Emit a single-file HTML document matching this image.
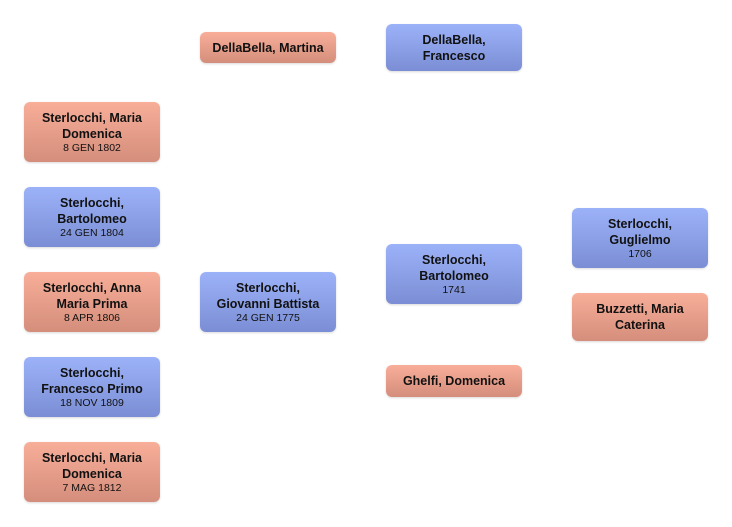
<html><head><style>
body{margin:0;width:732px;height:527px;background:#fff;position:relative;font-family:"Liberation Sans",sans-serif;}
.b{position:absolute;width:136px;border-radius:6px;display:flex;flex-direction:column;justify-content:center;align-items:center;text-align:center;color:#111;font-size:12.5px;font-weight:bold;line-height:16px;box-shadow:0 1px 2px rgba(0,0,0,.15);}
.p{background:linear-gradient(#f8ae99,#d48e7b);}
.u{background:linear-gradient(#9cb2f8,#7b8ed5);}
.b span{font-weight:normal;font-size:10.5px;line-height:13px;}
</style></head><body>
<div class="b p" style="left:24px;top:102px;height:60px">Sterlocchi, Maria<br>Domenica<span>8 GEN 1802</span></div>
<div class="b u" style="left:24px;top:187px;height:60px">Sterlocchi,<br>Bartolomeo<span>24 GEN 1804</span></div>
<div class="b p" style="left:24px;top:272px;height:60px">Sterlocchi, Anna<br>Maria Prima<span>8 APR 1806</span></div>
<div class="b u" style="left:24px;top:357px;height:60px">Sterlocchi,<br>Francesco Primo<span>18 NOV 1809</span></div>
<div class="b p" style="left:24px;top:442px;height:60px">Sterlocchi, Maria<br>Domenica<span>7 MAG 1812</span></div>
<div class="b p" style="left:200px;top:32px;height:31px">DellaBella, Martina</div>
<div class="b u" style="left:200px;top:272px;height:60px">Sterlocchi,<br>Giovanni Battista<span>24 GEN 1775</span></div>
<div class="b u" style="left:386px;top:24px;height:47px">DellaBella,<br>Francesco</div>
<div class="b u" style="left:386px;top:244px;height:60px">Sterlocchi,<br>Bartolomeo<span>1741</span></div>
<div class="b p" style="left:386px;top:365px;height:32px">Ghelfi, Domenica</div>
<div class="b u" style="left:572px;top:208px;height:60px">Sterlocchi,<br>Guglielmo<span>1706</span></div>
<div class="b p" style="left:572px;top:293px;height:48px">Buzzetti, Maria<br>Caterina</div>
</body></html>
